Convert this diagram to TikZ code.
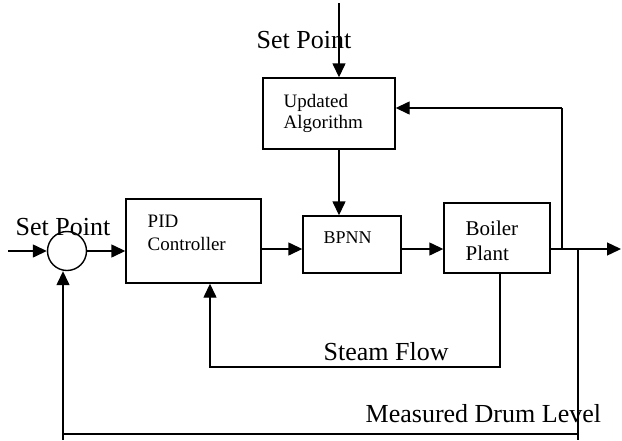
\documentclass[tikz,border=0pt]{standalone}
\usepackage{fontspec}
\setmainfont{Liberation Serif}
\usetikzlibrary{arrows.meta}
\begin{document}
\begin{tikzpicture}[x=1pt,y=-1pt,line width=1.4pt,
  arr/.style={-{Triangle[length=14pt,width=13pt]}},
  blk/.style={draw,inner sep=0pt},
  big/.style={anchor=base west,inner sep=0pt,font=\fontsize{26}{26}\selectfont},
  small/.style={anchor=base west,inner sep=0pt,font=\fontsize{19}{19}\selectfont},
  mid/.style={anchor=base west,inner sep=0pt,font=\fontsize{21}{21}\selectfont}]
\useasboundingbox (0,0) rectangle (622,440);
% blocks
\node[draw,circle,inner sep=0pt,minimum size=39pt] (sum) at (67,251) {};
\node[blk,minimum width=135pt,minimum height=84pt] (pid) at (193.5,241) {};
\node[blk,minimum width=98pt,minimum height=57pt] (bpnn) at (352,244.5) {};
\node[blk,minimum width=106pt,minimum height=70pt] (boiler) at (497,238) {};
\node[blk,minimum width=132pt,minimum height=71pt] (upd) at (329,113.5) {};
% texts
\node[small] (t1) at (147,227) {PID};
\node[small] (t2) at (147,250) {Controller};
\node[small] (t3) at (283,107) {Updated};
\node[small] (t4) at (283,128) {Algorithm};
\node[small,font=\fontsize{18}{18}\selectfont] (t5) at (323,243) {BPNN};
\node[mid] (t6) at (465,235) {Boiler};
\node[mid] (t7) at (465,260) {Plant};
\node[big] (l1) at (15,235) {Set Point};
\node[big] (l2) at (256,48) {Set Point};
\node[big] (l3) at (323,360) {Steam Flow};
\node[big] (l4) at (365,422) {Measured Drum Level};
% coordinates
\coordinate (in) at (8,251);
\coordinate (row) at (0,249);
\coordinate (sptop) at (339,3);
\coordinate (tap1) at (562,249);
\coordinate (tap1top) at (562,108);
\coordinate (out) at (621,249);
\coordinate (tap2) at (578,249);
\coordinate (tap2end) at (578,440);
\coordinate (c2) at (578,434);
\coordinate (fb) at (63,440);
\coordinate (s1) at (500,367);
\coordinate (s2) at (210,367);
% connectors
\draw[arr] (in) -- (sum.west);
\draw[arr] (sum.east) -- (sum.east -| pid.west);
\draw[arr] (pid.east |- row) -- (bpnn.west |- row);
\draw[arr] (bpnn.east |- row) -- (boiler.west |- row);
\draw[arr] (boiler.east |- row) -- (out);
\draw[arr] (sptop) -- (sptop |- upd.north);
\draw[arr] (sptop |- upd.south) -- (sptop |- bpnn.north);
\draw (tap1) -- (tap1top);
\draw[arr] (tap1top) -- (tap1top -| upd.east);
\draw (tap2) -- (tap2end);
\draw (c2) -- (c2 -| fb);
\draw[arr] (fb) -- (fb |- sum.south);
\draw[arr] (s1 |- boiler.south) -- (s1) -- (s2) -- (s2 |- pid.south);
\end{tikzpicture}
\end{document}
